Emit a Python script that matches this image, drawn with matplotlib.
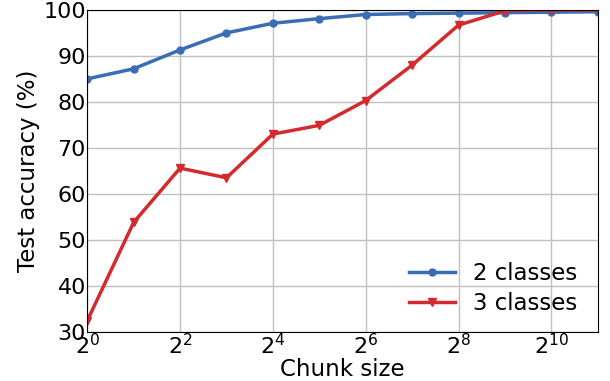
import numpy as np
import matplotlib
matplotlib.use("Agg")
import matplotlib.pyplot as plt

# ── Data ──────────────────────────────────────────────
chunk_exp  = np.arange(0, 12)
chunk_size = 2.0 ** chunk_exp
acc_2cls = [85.0, 87.2, 91.3, 95.0, 97.1, 98.1, 99.0, 99.2, 99.3, 99.4, 99.5, 99.6]
acc_3cls = [32.4, 53.8, 65.6, 63.5, 73.0, 74.9, 80.3, 88.0, 96.7, 99.8, 100.0, 100.0]

# ── Plot ──────────────────────────────────────────────
fig = plt.figure(figsize=(6.1, 3.81), dpi=100)
ax = fig.add_axes([0.143, 0.129, 0.837, 0.845])

ax.plot(chunk_size, acc_2cls, color="#3a6db5", lw=2.5, marker="o", ms=5, label="2 classes")
ax.plot(chunk_size, acc_3cls, color="#d42a2d", lw=2.5, marker="v", ms=6, label="3 classes")

ax.set_xscale("log", base=2)
ax.set_xlim(1, 2 ** 11)
ax.set_ylim(30, 100)
ax.set_xticks(2.0 ** np.arange(0, 12, 2))
ax.set_yticks(np.arange(30, 101, 10))
ax.tick_params(axis="both", length=0, labelsize=16, pad=1)
ax.grid(True, color="#c0c0c0", lw=1)
ax.set_axisbelow(True)

ax.set_xlabel("Chunk size", fontsize=16.5, labelpad=0)
ax.set_ylabel("Test accuracy (%)", fontsize=16.5, labelpad=2)
ax.legend(loc="lower right", frameon=False, fontsize=16.5, handlelength=2.0,
          bbox_to_anchor=(0.991, 0.003), borderaxespad=0.3, labelspacing=0.3)

fig.savefig("out.png", dpi=100)
